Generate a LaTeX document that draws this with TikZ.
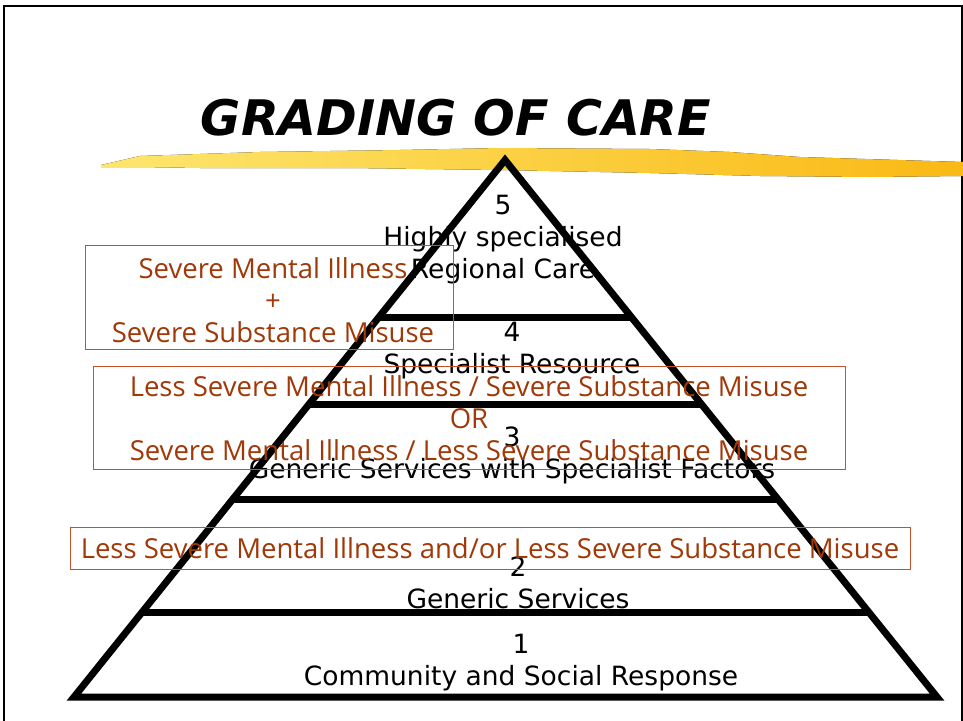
\documentclass[tikz,border=0pt]{standalone}
\usepackage{fontspec}
\setmainfont{DejaVu Sans}
\newfontfamily\comicf{Open Sans}
\usetikzlibrary{calc}
\definecolor{txtbrown}{RGB}{160,56,8}
\definecolor{boxred}{RGB}{198,82,44}
\definecolor{brushA}{RGB}{253,230,110}
\definecolor{brushB}{RGB}{250,185,20}
\begin{document}
\begin{tikzpicture}[x=1pt,y=-1pt,
  pyr/.style={line width=7pt, line join=miter},
  lvl/.style={font=\fontsize{26.5}{32}\selectfont, align=center, inner sep=0pt},
  grade/.style={draw=boxred, line width=0.8pt},
  gtext/.style={font=\comicf\fontsize{27.5}{32}\selectfont, text=txtbrown, inner sep=0pt, align=center}]
\useasboundingbox (0,0) rectangle (963,720);
% frame
\draw[line width=1.5pt] (4,760) -- (4,6) -- (962,6) -- (962,760);
% brush stroke
\fill[left color=brushA, right color=brushB]
  (101,165) -- (140,156) -- (260,152) -- (400,150) -- (500,148) -- (650,149)
  -- (730,152) -- (800,157) -- (963,162) -- (963,176) -- (870,177) -- (760,176)
  -- (650,173) -- (500,170) -- (350,168) -- (200,168) -- (140,167) -- (101,167) -- cycle;
% title
\node[font=\fontsize{49}{56}\selectfont\bfseries\itshape, inner sep=0pt] (title) at (456,118) {GRADING OF CARE};
% pyramid
\coordinate (apex) at (505,160);
\coordinate (bl) at (74,697);
\coordinate (br) at (937,697);
\draw[pyr] (apex) -- (bl) -- (br) -- cycle;
\foreach \t in {0.294,0.456,0.633,0.842}
  \draw[pyr] ($(apex)!\t!(bl)$) -- ($(apex)!\t!(br)$);
% level texts
\node[lvl] (l5) at (503,240) {5\\Highly specialised\\Regional Care};
\node[lvl] (l4) at (512,351) {4\\Specialist Resource};
\node[lvl] (l3) at (512,455) {3\\Generic Services with Specialist Factors};
\node[lvl] (l2) at (518,583) {2\\Generic Services};
\node[lvl] (l1) at (521,663) {1\\Community and Social Response};
% grading boxes
\draw[grade] (85,245) rectangle (453,349);
\node[gtext] (g5) at (273,300) {Severe Mental Illness\\+\\Severe Substance Misuse};
\draw[grade] (93,366) rectangle (845,469);
\node[gtext] (g34) at (469,418) {Less Severe Mental Illness / Severe Substance Misuse\\OR\\Severe Mental Illness / Less Severe Substance Misuse};
\draw[grade] (70,527) rectangle (910,569);
\node[gtext] (g2) at (490,548) {Less Severe Mental Illness and/or Less Severe Substance Misuse};
\end{tikzpicture}
\end{document}
